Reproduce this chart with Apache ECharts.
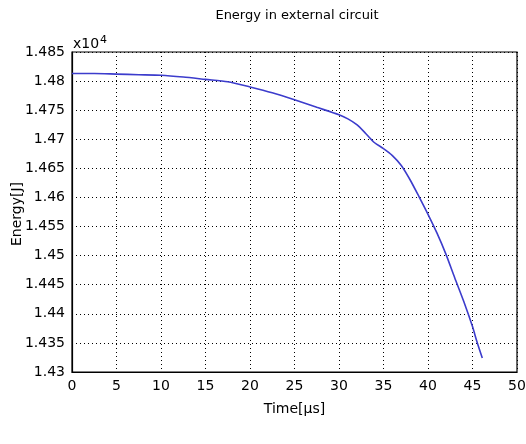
<!DOCTYPE html>
<html>
<head>
<meta charset="utf-8">
<script src="https://cdn.jsdelivr.net/npm/echarts@6/dist/echarts.min.js"></script>
<style>html,body{margin:0;padding:0;background:#fff;}#c{width:526px;height:444px;}</style>
</head>
<body>
<div id="c"></div>
<script>
var timeUs = [0, 2.5, 5, 7.5, 10, 12.5, 15, 17.5, 20, 22.5, 25, 27.5, 30, 31, 32, 33, 34, 35, 36, 37, 38, 39, 40, 41, 42, 43, 44, 45, 45.5, 46.1];
var energyE4 = [1.4813, 1.4813, 1.4812, 1.4811, 1.4810, 1.4807, 1.4803, 1.4799, 1.4790, 1.4780, 1.4768, 1.4755, 1.4742, 1.4735, 1.4725, 1.4710, 1.4694, 1.4684, 1.4672, 1.4655, 1.4630, 1.4601, 1.4571, 1.4539, 1.4503, 1.4462, 1.4422, 1.4378, 1.4352, 1.4324];
var xTicks = [0, 5, 10, 15, 20, 25, 30, 35, 40, 45, 50];
var yTickLabels = ['1.43','1.435','1.44','1.445','1.45','1.455','1.46','1.465','1.47','1.475','1.48','1.485'];

var points = timeUs.map(function (t, i) { return [t, energyE4[i]]; });
var font = 'DejaVu Sans';
var chart = echarts.init(document.getElementById('c'), null, {renderer: 'canvas'});
chart.setOption({
  backgroundColor: '#fff',
  animation: false,
  title: {
    text: 'Energy in external circuit',
    left: 292, top: 4, textAlign: 'center',
    textStyle: {fontFamily: font, fontSize: 13, fontWeight: 'normal', color: '#000'}
  },
  grid: {left: 72, right: 9, top: 52, bottom: 72, outerBoundsMode: 'none', containLabel: false,
    show: true, borderColor: '#000', borderWidth: 1.2, backgroundColor: '#fff'},
  xAxis: {
    type: 'value', min: 0, max: 50, interval: 5,
    name: 'Time[μs]', nameLocation: 'middle', nameGap: 30,
    nameTextStyle: {fontFamily: font, fontSize: 14, color: '#000'},
    axisLine: {show: true, lineStyle: {color: '#000', width: 1.2}},
    axisTick: {show: false},
    axisLabel: {fontFamily: font, fontSize: 14, color: '#000', margin: 7,
      formatter: function (v) { return xTicks.indexOf(v) >= 0 ? String(v) : ''; }},
    splitLine: {show: true, lineStyle: {color: '#000', type: [1, 3], width: 1}}
  },
  yAxis: {
    type: 'value', min: 1.43, max: 1.485, interval: 0.005,
    axisLine: {show: true, lineStyle: {color: '#000', width: 1.2}},
    axisTick: {show: false},
    axisLabel: {fontFamily: font, fontSize: 14, color: '#000', margin: 7,
      formatter: function (v) { var i = Math.round((v - 1.43) / 0.005); return yTickLabels[i] || ''; }},
    splitLine: {show: true, lineStyle: {color: '#000', type: [1, 3], width: 1}}
  },
  graphic: [{
    type: 'text', left: 73, top: 35,
    style: {
      text: 'x10{s|4}',
      font: '14px DejaVu Sans', fill: '#000',
      rich: {s: {fontFamily: font, fontSize: 11, verticalAlign: 'top', padding: [0,0,8,1]}}
    }
  }, {
    type: 'text', x: 17, y: 214, rotation: Math.PI / 2,
    style: {text: 'Energy[J]', font: '14px DejaVu Sans', fill: '#000', align: 'center', verticalAlign: 'middle'}
  }],
  series: [{
    type: 'line', data: points, showSymbol: false, smooth: 0.25,
    lineStyle: {color: '#3c3ccc', width: 1.6}
  }]
});
</script>
</body>
</html>
